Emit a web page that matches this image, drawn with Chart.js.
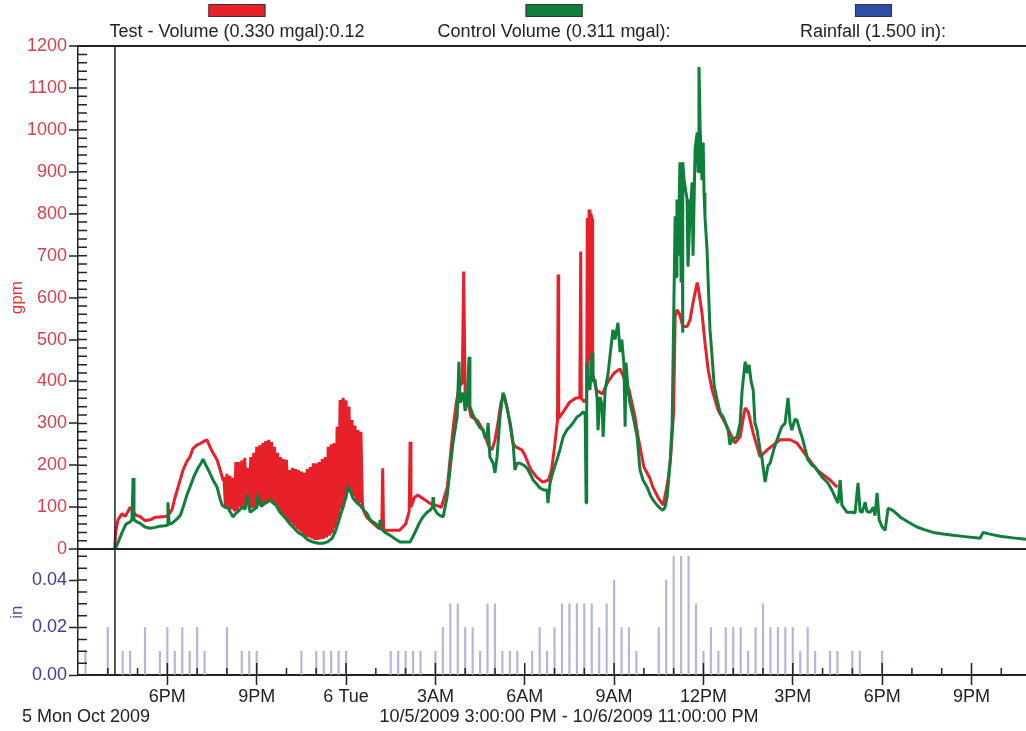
<!DOCTYPE html>
<html>
<head>
<meta charset="utf-8">
<script src="https://cdn.jsdelivr.net/npm/chart.js@4.4.1/dist/chart.umd.min.js"></script>
<style>
  body { margin: 0; background: #fff; font-family: "Liberation Sans", Arial, sans-serif; }
  #wrap { position: relative; width: 1026px; height: 731px; overflow: hidden; }
  canvas { position: absolute; left: 0; top: 0; }
  .key { position: absolute; top: 0; text-align: center; font-size: 18px; line-height: 21px; color: #222; white-space: nowrap; transform: translateX(-50%); }
  .key span { display: block; margin: 4px auto 4px; height: 11px; border: 1px solid #333; }
  .foot { position: absolute; top: 706px; font-size: 18px; line-height: 21px; color: #222; white-space: nowrap; }
</style>
</head>
<body>
<div id="wrap">
  <canvas id="flowChart" width="1026" height="731"></canvas>
  <div class="key" style="left:237px"><span style="width:55px;background:#e8202a"></span>Test - Volume (0.330 mgal):0.12</div>
  <div class="key" style="left:554px"><span style="width:55px;background:#0f7f3b"></span>Control Volume (0.311 mgal):</div>
  <div class="key" style="left:873px"><span style="width:35px;background:#2e4ea6"></span>Rainfall (1.500 in):</div>
  <div class="foot" style="left:22px">5 Mon Oct 2009</div>
  <div class="foot" style="left:569px;transform:translateX(-50%)">10/5/2009 3:00:00 PM - 10/6/2009 11:00:00 PM</div>
</div>
<script>
// hours counted from midnight Oct 5, 2009
const timeTickHours = [18, 21, 24, 27, 30, 33, 36, 39, 42, 45];
const timeTickLabels = ['6PM', '9PM', '6 Tue', '3AM', '6AM', '9AM', '12PM', '3PM', '6PM', '9PM'];
const gpmTicks = [0, 100, 200, 300, 400, 500, 600, 700, 800, 900, 1000, 1100, 1200];
const inchTicks = [0, 0.02, 0.04];
const cursorHour = 16.24;

// Test - Volume (red)
const testHours = [
  16.24, 16.26, 16.34, 16.48, 16.58, 16.68, 16.75, 16.85, 16.98, 17.08,
  17.25, 17.42, 17.59, 17.75, 17.92, 18.02, 18.16, 18.26, 18.43, 18.53,
  18.66, 18.76, 18.86, 19.00, 19.10, 19.20, 19.33, 19.43, 19.53, 19.67,
  19.77, 19.87, 19.90, 19.95, 20.00, 20.05, 20.10, 20.15, 20.20, 20.25,
  20.30, 20.35, 20.40, 20.45, 20.50, 20.55, 20.60, 20.65, 20.70, 20.75,
  20.80, 20.85, 20.90, 20.95, 21.00, 21.05, 21.10, 21.15, 21.20, 21.25,
  21.30, 21.35, 21.40, 21.45, 21.50, 21.55, 21.60, 21.65, 21.70, 21.75,
  21.80, 21.85, 21.90, 21.95, 22.00, 22.05, 22.10, 22.15, 22.20, 22.25,
  22.30, 22.35, 22.40, 22.45, 22.50, 22.55, 22.60, 22.65, 22.70, 22.75,
  22.80, 22.85, 22.90, 22.95, 23.00, 23.05, 23.10, 23.15, 23.20, 23.25,
  23.30, 23.35, 23.40, 23.45, 23.50, 23.55, 23.60, 23.65, 23.70, 23.75,
  23.80, 23.85, 23.90, 23.95, 24.00, 24.05, 24.10, 24.15, 24.20, 24.25,
  24.30, 24.35, 24.40, 24.45, 24.50, 24.55, 24.60, 24.70, 24.90, 25.10,
  25.20, 25.23, 25.26, 25.50, 25.80, 26.00, 26.12, 26.15, 26.18, 26.30,
  26.40, 26.60, 26.80, 27.00, 27.20, 27.40, 27.50, 27.60, 27.70, 27.80,
  27.90, 27.95, 28.00, 28.10, 28.20, 28.40, 28.60, 28.80, 28.90, 29.00,
  29.10, 29.20, 29.30, 29.40, 29.50, 29.60, 29.70, 29.90, 30.00, 30.20,
  30.40, 30.60, 30.80, 30.90, 31.00, 31.10, 31.12, 31.14, 31.30, 31.50,
  31.70, 31.85, 31.88, 31.90, 32.00, 32.08, 32.10, 32.13, 32.16, 32.19,
  32.22, 32.26, 32.28, 32.40, 32.60, 32.80, 33.00, 33.20, 33.50, 33.70,
  33.80, 34.00, 34.20, 34.30, 34.50, 34.65, 34.80, 34.90, 35.00, 35.05,
  35.11, 35.20, 35.31, 35.45, 35.55, 35.65, 35.79, 35.82, 35.95, 36.05,
  36.16, 36.29, 36.49, 36.73, 36.89, 37.06, 37.23, 37.40, 37.50, 37.67,
  37.90, 38.14, 38.57, 38.91, 39.14, 39.48, 39.81, 40.25, 40.49
];
const testGpm = [
  3, 40, 70, 85, 78, 90, 100, 88, 80, 78,
  68, 70, 76, 77, 78, 80, 95, 124, 165, 189,
  210, 220, 240, 249, 252, 256, 261, 244, 230, 213,
  190, 165, 172, 100, 180, 98, 175, 95, 170, 90,
  208, 92, 208, 100, 212, 96, 218, 110, 194, 95,
  220, 98, 230, 100, 244, 105, 248, 103, 253, 110,
  258, 112, 261, 118, 256, 110, 244, 105, 230, 92,
  220, 82, 215, 75, 213, 68, 189, 62, 194, 55,
  192, 48, 189, 42, 185, 35, 182, 30, 192, 28,
  196, 25, 205, 22, 205, 22, 208, 24, 215, 25,
  220, 28, 244, 32, 250, 38, 253, 50, 292, 70,
  356, 95, 361, 115, 355, 135, 340, 140, 308, 125,
  295, 115, 284, 110, 280, 105, 90, 76, 62, 50,
  48, 193, 45, 45, 45, 60, 90, 256, 100, 124,
  129, 120, 110, 105, 100, 148, 220, 292, 349, 387,
  397, 662, 360, 349, 316, 308, 284, 244, 237, 260,
  301, 349, 368, 339, 301, 253, 244, 237, 225, 190,
  172, 160, 165, 189, 244, 308, 655, 312, 328, 350,
  360, 362, 710, 360, 351, 360, 790, 420, 810, 450,
  800, 787, 420, 380, 370, 400, 420, 430, 380, 316,
  270, 196, 170, 148, 120, 105, 160, 220, 330, 555,
  571, 560, 531, 531, 547, 588, 636, 626, 564, 493,
  428, 380, 332, 301, 277, 253, 268, 337, 328, 277,
  220, 237, 261, 261, 253, 220, 189, 165, 148
];

// Control Volume (green)
const controlHours = [
  16.24, 16.34, 16.48, 16.61, 16.75, 16.81, 16.85, 16.88, 16.98, 17.08,
  17.25, 17.42, 17.59, 17.75, 17.92, 17.99, 18.02, 18.06, 18.16, 18.32,
  18.43, 18.53, 18.66, 18.76, 18.90, 19.03, 19.13, 19.20, 19.26, 19.37,
  19.47, 19.57, 19.67, 19.77, 19.84, 19.94, 20.04, 20.14, 20.20, 20.31,
  20.41, 20.51, 20.61, 20.68, 20.78, 20.91, 21.01, 21.04, 21.15, 21.25,
  21.35, 21.45, 21.55, 21.65, 21.78, 21.92, 22.02, 22.12, 22.22, 22.39,
  22.56, 22.72, 22.89, 23.06, 23.23, 23.39, 23.53, 23.63, 23.73, 23.83,
  23.90, 24.00, 24.07, 24.13, 24.23, 24.37, 24.47, 24.60, 24.70, 24.81,
  24.91, 25.01, 25.12, 25.14, 25.16, 25.31, 25.48, 25.64, 25.81, 25.98,
  26.15, 26.28, 26.38, 26.48, 26.58, 26.72, 26.82, 26.90, 26.92, 26.94,
  27.05, 27.16, 27.26, 27.39, 27.49, 27.59, 27.73, 27.79, 27.83, 27.93,
  28.00, 28.06, 28.13, 28.16, 28.26, 28.40, 28.50, 28.60, 28.67, 28.73,
  28.77, 28.83, 28.94, 29.00, 29.07, 29.17, 29.27, 29.33, 29.40, 29.51,
  29.61, 29.67, 29.74, 29.84, 29.98, 30.08, 30.18, 30.28, 30.41, 30.51,
  30.65, 30.75, 30.78, 30.85, 30.95, 31.08, 31.19, 31.29, 31.42, 31.52,
  31.66, 31.76, 31.86, 31.96, 32.03, 32.06, 32.08, 32.13, 32.19, 32.26,
  32.29, 32.36, 32.43, 32.46, 32.53, 32.60, 32.63, 32.70, 32.80, 32.86,
  32.96, 33.03, 33.13, 33.20, 33.26, 33.33, 33.37, 33.40, 33.47, 33.53,
  33.64, 33.77, 33.87, 33.97, 34.11, 34.21, 34.31, 34.44, 34.54, 34.64,
  34.71, 34.78, 34.88, 34.95, 34.98, 35.05, 35.08, 35.11, 35.15, 35.21,
  35.25, 35.28, 35.30, 35.31, 35.35, 35.45, 35.48, 35.55, 35.62, 35.65,
  35.72, 35.79, 35.82, 35.85, 35.89, 35.92, 35.95, 35.99, 36.02, 36.05,
  36.12, 36.16, 36.22, 36.29, 36.36, 36.46, 36.56, 36.66, 36.83, 36.89,
  36.96, 37.13, 37.23, 37.30, 37.40, 37.47, 37.53, 37.60, 37.67, 37.73,
  37.80, 37.90, 37.96, 38.07, 38.17, 38.24, 38.37, 38.47, 38.63, 38.74,
  38.84, 38.91, 38.97, 39.07, 39.14, 39.25, 39.31, 39.41, 39.51, 39.65,
  39.75, 39.85, 39.98, 40.08, 40.18, 40.32, 40.42, 40.52, 40.59, 40.65,
  40.82, 40.99, 41.09, 41.19, 41.26, 41.33, 41.43, 41.49, 41.60, 41.70,
  41.76, 41.83, 41.90, 42.00, 42.10, 42.20, 42.37, 42.60, 42.87, 43.17,
  43.44, 43.71, 44.05, 44.38, 44.78, 45.29, 45.39, 45.62, 45.96, 46.40,
  46.83
];
const controlGpm = [
  0, 15, 40, 60, 65, 70, 170, 70, 65, 62,
  53, 50, 52, 55, 56, 57, 112, 60, 62, 72,
  80, 100, 130, 148, 175, 194, 205, 215, 205, 190,
  175, 160, 148, 120, 105, 100, 98, 85, 77, 86,
  92, 100, 95, 129, 88, 95, 100, 130, 102, 108,
  112, 117, 110, 105, 88, 78, 69, 60, 53, 40,
  33, 22, 17, 14, 14, 18, 26, 40, 62, 85,
  100, 125, 150, 141, 122, 110, 105, 92, 86, 70,
  65, 60, 50, 70, 50, 40, 33, 25, 17, 17,
  17, 35, 50, 65, 77, 88, 93, 100, 124, 100,
  86, 80, 77, 124, 189, 253, 316, 447, 349, 373,
  330, 349, 459, 340, 320, 301, 290, 284, 265, 268,
  301, 220, 205, 182, 220, 316, 373, 360, 339, 301,
  253, 189, 205, 205, 200, 193, 180, 165, 155, 146,
  141, 141, 110, 158, 185, 213, 240, 268, 285, 292,
  305, 316, 320, 328, 320, 110, 445, 400, 380, 469,
  400, 404, 360, 284, 363, 340, 268, 380, 420, 459,
  523, 500, 540, 470, 500, 440, 292, 445, 380, 349,
  316, 270, 189, 165, 148, 130, 117, 105, 98, 93,
  100, 124, 205, 300, 450, 794, 650, 834, 700, 923,
  636, 900, 516, 923, 880, 834, 674, 800, 875, 700,
  954, 994, 900, 1150, 1000, 954, 880, 970, 850, 794,
  715, 636, 523, 459, 390, 356, 325, 316, 284, 249,
  261, 268, 300, 380, 447, 420, 440, 400, 380, 301,
  284, 237, 220, 160, 200, 205, 240, 261, 292, 300,
  361, 300, 284, 310, 308, 280, 268, 240, 213, 200,
  196, 185, 172, 165, 158, 140, 124, 110, 165, 105,
  88, 88, 86, 158, 90, 88, 112, 90, 88, 100,
  80, 134, 70, 53, 45, 98, 92, 77, 65, 53,
  46, 40, 36, 33, 30, 26, 40, 36, 31, 27,
  24
];

// Rainfall, 15-minute totals
const rainHours = [
  15.25, 16, 16.5, 16.75, 17.25, 17.75, 18, 18.25, 18.5, 18.75,
  19, 19.25, 20, 20.5, 20.75, 21, 22.5, 23, 23.25, 23.5,
  23.75, 24, 25.5, 25.75, 26, 26.25, 26.5, 27, 27.25, 27.5,
  27.75, 28, 28.25, 28.5, 28.75, 29, 29.25, 29.5, 29.75, 30.25,
  30.5, 30.75, 31, 31.25, 31.5, 31.75, 32, 32.25, 32.5, 32.75,
  33, 33.25, 33.5, 33.75, 34.5, 34.75, 35, 35.25, 35.5, 35.75,
  36, 36.25, 36.5, 36.75, 37, 37.25, 37.5, 37.75, 38, 38.25,
  38.5, 38.75, 39, 39.25, 39.5, 39.75, 40.25, 40.5, 41, 41.25,
  42
];
const rainInches = [
  0.01, 0.02, 0.01, 0.01, 0.02, 0.01, 0.02, 0.01, 0.02, 0.01,
  0.02, 0.01, 0.02, 0.01, 0.01, 0.01, 0.01, 0.01, 0.01, 0.01,
  0.01, 0.01, 0.01, 0.01, 0.01, 0.01, 0.01, 0.01, 0.02, 0.03,
  0.03, 0.02, 0.02, 0.01, 0.03, 0.03, 0.01, 0.01, 0.01, 0.01,
  0.02, 0.01, 0.02, 0.03, 0.03, 0.03, 0.03, 0.03, 0.02, 0.03,
  0.04, 0.02, 0.02, 0.01, 0.02, 0.04, 0.05, 0.05, 0.05, 0.03,
  0.01, 0.02, 0.01, 0.02, 0.02, 0.02, 0.01, 0.02, 0.03, 0.02,
  0.02, 0.02, 0.02, 0.01, 0.02, 0.01, 0.01, 0.01, 0.01, 0.01,
  0.01
];

Chart.defaults.font.family = '"Liberation Sans", Arial, sans-serif';

// small inner tick marks + the cursor line
const extraTicks = {
  id: 'extraTicks',
  afterDraw(chart) {
    const { ctx, chartArea } = chart;
    const { x, y, y2 } = chart.scales;
    ctx.save();
    ctx.strokeStyle = '#222';
    ctx.lineWidth = 1.5;
    ctx.beginPath();
    for (let v = 0; v <= 1200; v += 20) {
      const py = y.getPixelForValue(v);
      ctx.moveTo(chartArea.left, py);
      ctx.lineTo(chartArea.left + 9, py);
    }
    for (let k = 0; k <= 10; k++) {
      const py = y2.getPixelForValue(k * 0.005);
      ctx.moveTo(chartArea.left, py);
      ctx.lineTo(chartArea.left + 9, py);
    }
    for (let h = 16; h <= 46; h++) {
      const px = x.getPixelForValue(h);
      const len = h % 3 === 0 ? 12 : 7;
      ctx.moveTo(px, chartArea.bottom);
      ctx.lineTo(px, chartArea.bottom - len);
    }
    const cx = x.getPixelForValue(cursorHour);
    ctx.moveTo(cx, chartArea.top);
    ctx.lineTo(cx, chartArea.bottom);
    ctx.stroke();
    ctx.restore();
  }
};

const flowCtx = document.getElementById('flowChart').getContext('2d');
new Chart(flowCtx, {
  type: 'line',
  data: {
    datasets: [
      {
        label: 'Control Volume',
        data: controlHours.map((h, i) => ({ x: h, y: controlGpm[i] })),
        borderColor: '#0f7f3b',
        borderWidth: 3,
        pointRadius: 0,
        borderJoinStyle: 'bevel',
        yAxisID: 'y',
        order: 1
      },
      {
        label: 'Test - Volume',
        data: testHours.map((h, i) => ({ x: h, y: testGpm[i] })),
        borderColor: '#e8202a',
        borderWidth: 3,
        pointRadius: 0,
        borderJoinStyle: 'bevel',
        yAxisID: 'y',
        order: 2
      },
      {
        type: 'bar',
        label: 'Rainfall',
        data: rainHours.map((h, i) => ({ x: h, y: rainInches[i] })),
        backgroundColor: '#b4b4de',
        barThickness: 1.5,
        yAxisID: 'y2',
        order: 3
      }
    ]
  },
  options: {
    responsive: false,
    animation: false,
    layout: { padding: { top: 46 } },
    plugins: { legend: { display: false }, tooltip: { enabled: false } },
    scales: {
      x: {
        type: 'linear',
        offset: false,
        min: 15,
        max: 46.83,
        afterBuildTicks: s => { s.ticks = timeTickHours.map(v => ({ value: v })); },
        afterFit: s => { s.height = 56; },
        ticks: {
          autoSkip: false,
          maxRotation: 0,
          padding: 1,
          color: '#222',
          font: { size: 18 },
          callback: v => timeTickLabels[timeTickHours.indexOf(v)]
        },
        grid: { offset: false, drawOnChartArea: false, tickLength: 10, tickColor: '#222', tickWidth: 1.5 },
        border: { color: '#222', width: 2 }
      },
      y2: {
        type: 'linear',
        position: 'left',
        stack: 'panels',
        stackWeight: 1,
        min: 0,
        max: 0.053,
        afterBuildTicks: s => { s.ticks = inchTicks.map(v => ({ value: v })); },
        afterFit: s => { s.width = 78; },
        ticks: { autoSkip: false, color: '#3c3c9c', font: { size: 18 }, padding: 2, callback: v => v.toFixed(2) },
        grid: { drawOnChartArea: false, tickLength: 9, tickColor: '#222', tickWidth: 1.5 },
        border: { color: '#222', width: 1.5 },
        title: { display: true, text: 'in', color: '#4a4aaa', font: { size: 17 }, padding: { top: 7, bottom: 0 } }
      },
      y: {
        type: 'linear',
        position: 'left',
        stack: 'panels',
        stackWeight: 4,
        min: 0,
        max: 1200,
        afterBuildTicks: s => { s.ticks = gpmTicks.map(v => ({ value: v })); },
        afterFit: s => { s.width = 78; },
        ticks: { autoSkip: false, color: '#d8404c', font: { size: 18 }, padding: 2, callback: v => String(v) },
        grid: {
          color: c => (c.tick && (c.tick.value === 0 || c.tick.value === 1200)) ? '#222' : 'rgba(0,0,0,0)',
          lineWidth: 2,
          tickLength: 9,
          tickColor: '#222',
          tickWidth: 1.5
        },
        border: { color: '#222', width: 1.5 },
        title: { display: true, text: 'gpm', color: '#e03535', font: { size: 17 }, padding: { top: 7, bottom: 0 } }
      }
    }
  },
  plugins: [extraTicks]
});
</script>
</body>
</html>
